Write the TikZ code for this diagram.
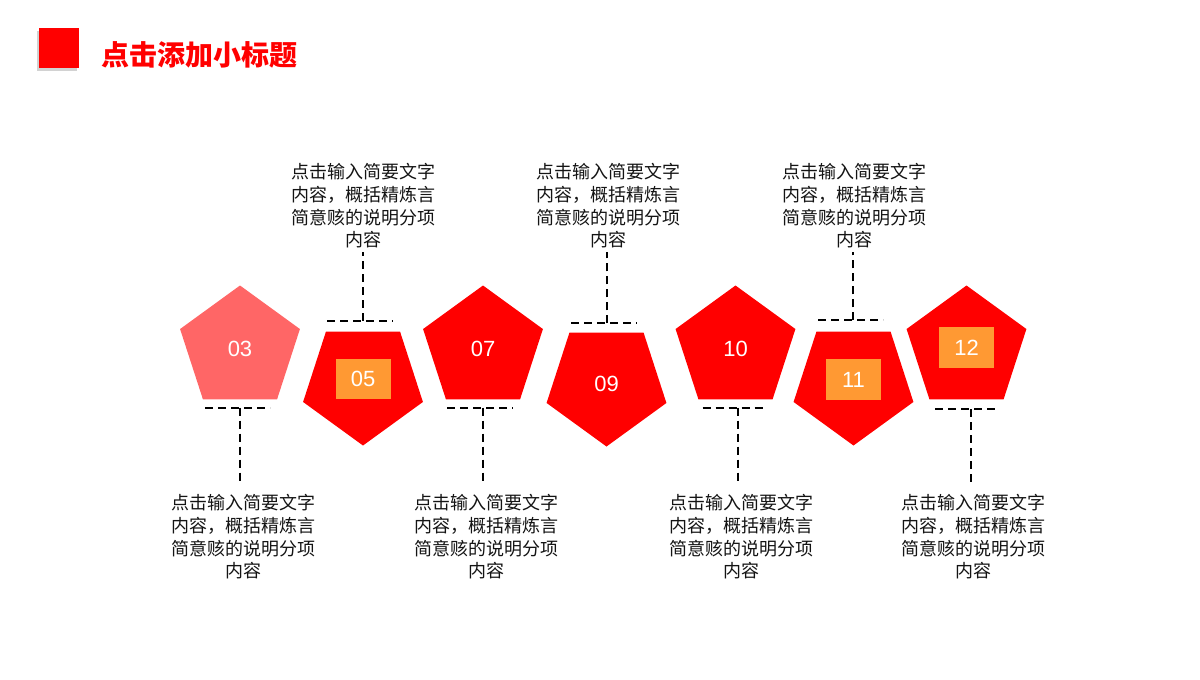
\documentclass[tikz,border=0pt]{standalone}
\usepackage{fontspec}
\setmainfont{Liberation Sans}
\newfontfamily\cjk{Noto Sans CJK SC}
\usetikzlibrary{shapes.geometric,shadows}
\definecolor{pred}{RGB}{255,0,0}
\definecolor{plight}{RGB}{255,102,102}
\definecolor{porange}{RGB}{255,153,51}
\definecolor{ptext}{RGB}{20,20,20}
\tikzset{
  pent/.style={regular polygon, regular polygon sides=5, minimum size=126pt, inner sep=0pt, outer sep=0pt, fill=pred, text=white, font=\fontsize{22}{26}\selectfont},
  pentdown/.style={pent, shape border rotate=180},
  tagbox/.style={fill=porange, minimum width=55pt, minimum height=40.5pt, inner sep=0pt, text=white, font=\fontsize{22}{26}\selectfont},
  desc/.style={align=center, text=ptext, font=\cjk\fontsize{18}{22.7}\selectfont, inner sep=0pt},
  dashline/.style={draw=black, line width=1.8pt, dash pattern=on 8pt off 5pt},
}
\begin{document}
\begin{tikzpicture}[x=1pt,y=-1pt]
\useasboundingbox[fill=white] (0,0) rectangle (1200,680);
% title
\node[fill=pred, minimum size=40pt, inner sep=0pt, drop shadow={shadow xshift=-2.5pt, shadow yshift=-3pt, opacity=0.35}] (sq) at (59,48) {};
\node[anchor=west, text=pred, font=\cjk\bfseries\fontsize{28}{32}\selectfont, inner sep=0pt] (title) at (101,55) {点击添加小标题};
% pentagons
\node[pent, fill=plight] (p1) at (240,348.5) {03};
\node[pentdown] (p2) at (363,382.5) {};
\node[tagbox] (t2) at (363,379) {05};
\node[pent] (p3) at (483,348.5) {07};
\node[pentdown] (p4) at (606.5,383.5) {09};
\node[pent] (p5) at (735.5,348.5) {10};
\node[pentdown] (p6) at (853.5,382.5) {};
\node[tagbox] (t6) at (853.5,379.7) {11};
\node[pent] (p7) at (966.5,348.5) {};
\node[tagbox] (t7) at (966.7,347.5) {12};
% descriptions
\def\desctext{点击输入简要文字\\内容，概括精炼言\\简意赅的说明分项\\内容}
\node[desc] (d2) at (363.3,206) {\desctext};
\node[desc] (d4) at (608,206) {\desctext};
\node[desc] (d6) at (854,206) {\desctext};
\node[desc] (d1) at (243,537) {\desctext};
\node[desc] (d3) at (486,537) {\desctext};
\node[desc] (d5) at (741,537) {\desctext};
\node[desc] (d7) at (973.5,537) {\desctext};
% bars
\coordinate (b1) at (240,407.7);
\coordinate (b2) at (363,320.7);
\coordinate (b3) at (483,407.7);
\coordinate (b4) at (606.7,323.3);
\coordinate (b5) at (737.7,407.7);
\coordinate (b6) at (853.3,320.3);
\coordinate (b7) at (971,409);
\draw[dashline] ([xshift=-35pt]b1) -- ([xshift=30pt]b1);
\draw[dashline] ([xshift=-36pt]b2) -- ([xshift=30pt]b2);
\draw[dashline] ([xshift=-36pt]b3) -- ([xshift=30pt]b3);
\draw[dashline] ([xshift=-35.5pt]b4) -- ([xshift=30.5pt]b4);
\draw[dashline] ([xshift=-35pt]b5) -- ([xshift=29.5pt]b5);
\draw[dashline] ([xshift=-35pt]b6) -- ([xshift=30pt]b6);
\draw[dashline] ([xshift=-35.7pt]b7) -- ([xshift=29pt]b7);
% connectors
\draw[dashline, shorten >=12pt] (b1) -- (b1 |- d1.north);
\draw[dashline, shorten >=12pt] (b3) -- (b3 |- d3.north);
\draw[dashline, shorten >=12pt] (b5) -- (b5 |- d5.north);
\draw[dashline, shorten >=12pt] (b7) -- (b7 |- d7.north);
\draw[dashline, shorten >=3pt] (b2) -- (b2 |- d2.south);
\draw[dashline, shorten >=3pt] (b4) -- (b4 |- d4.south);
\draw[dashline, shorten >=3pt] (b6) -- (b6 |- d6.south);
\end{tikzpicture}
\end{document}
